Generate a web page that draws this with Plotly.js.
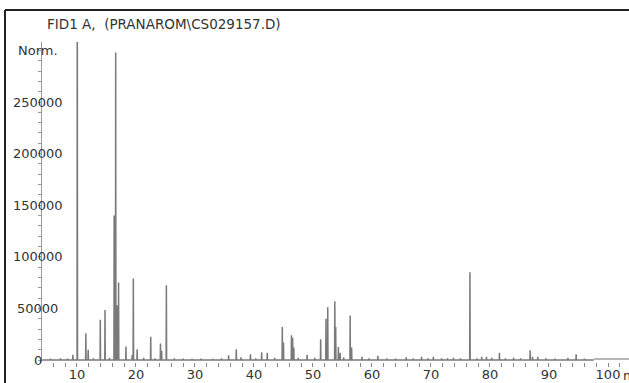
<!DOCTYPE html>
<html>
<head>
<meta charset="utf-8">
<script src="https://cdn.plot.ly/plotly-3.0.1.min.js"></script>
<style>html,body{margin:0;padding:0;background:#fff;}#chart{width:629px;height:383px;}</style>
</head>
<body>
<div id="chart"></div>
<script>
// Chromatogram peaks: retention time (min) and height (Norm.)
const peakTimes = [
  5.5, 7.2, 8.4, 9.3, 10.05, 11.5, 11.9, 12.8, 13.95, 14.75, 15.5, 16.3, 16.56, 16.85, 17.05,
  18.3, 19.35, 19.55, 20.2, 21.3, 22.5, 23.2, 24.15, 24.35, 25.15, 26.5, 28.0, 29.5, 31.0,
  33.0, 34.5, 35.7, 37.0, 37.8, 39.4, 40.3, 41.3, 42.25, 43.5, 44.8, 45.0, 46.35, 46.55,
  46.75, 47.5, 49.0, 50.3, 51.3, 52.2, 52.5, 53.7, 53.85, 54.3, 54.6, 55.2, 56.3, 56.55,
  58.3, 59.5, 61.0, 62.5, 64.0, 65.8, 67.0, 68.4, 69.5, 70.4, 71.8, 72.8, 73.8, 75.0,
  76.6, 77.8, 78.6, 79.4, 80.3, 81.6, 82.6, 84.0, 85.2, 86.8, 87.2, 88.1, 89.5, 91.0,
  93.2, 94.6, 96.0
];
const peakHeights = [
  1200, 1500, 1200, 5000, 420000, 26000, 10000, 1500, 39000, 48500, 2000, 140000, 298000, 53000, 75000,
  13000, 4800, 79000, 10500, 2000, 22500, 1500, 16000, 9000, 72500, 1500, 1200, 1000, 1200,
  1000, 1500, 4500, 10500, 2500, 5500, 1500, 7500, 7000, 2000, 32000, 17000, 24000, 21500,
  12000, 2000, 5000, 2000, 20000, 40000, 51000, 57000, 32000, 12500, 7000, 2500, 43000, 12000,
  3000, 1500, 4000, 1500, 1200, 2500, 1500, 3000, 1500, 3000, 1500, 1500, 2000, 1500,
  85000, 1500, 3000, 3000, 2000, 7000, 1500, 2000, 1500, 9500, 3000, 3000, 1500, 1200,
  2000, 5500, 1200
];
const runStart = 4.07;
const runEnd = 97.6;
const tailX = [97.6, 103.6];
const tailY = [1000, 1000];

const xTickVals = [10, 20, 30, 40, 50, 60, 70, 80, 90, 100];
const xTickText = ['10', '20', '30', '40', '50', '60', '70', '80', '90', '100'];
const yLabelVals = [0, 50000, 100000, 150000, 200000, 250000, 300000];
const yLabelText = ['0', '50000', '100000', '150000', '200000', '250000', 'Norm.'];
const titleText = 'FID1 A,\u00a0\u00a0(PRANAROM\\CS029157.D)';

// build the trace from the peak list
const xs = [runStart], ys = [0];
const hw = 0.04;
for (let i = 0; i < peakTimes.length; i++) {
  xs.push(peakTimes[i] - hw, peakTimes[i], peakTimes[i] + hw);
  ys.push(0, peakHeights[i], 0);
}
xs.push(runEnd); ys.push(0);

const font = {family: 'DejaVu Sans, Arial, sans-serif', size: 13, color: '#333'};
const L = 42, T = 42, B = 21, W = 629, H = 383;
const pw = W - L, ph = H - T - B;

const annotations = yLabelVals.map((v, i) => ({
  xref: 'paper', yref: 'y', x: -4.5 / pw, y: v, xanchor: 'center', yanchor: 'middle',
  text: yLabelText[i], showarrow: false, font: font
}));
annotations.push({
  xref: 'paper', yref: 'paper', x: (621 - L) / pw, y: (H - B - 375) / ph,
  xanchor: 'left', yanchor: 'middle', text: 'min', showarrow: false, font: font
});

const data = [
  {x: xs, y: ys, type: 'scatter', mode: 'lines', line: {color: '#7a7a7a', width: 1.5}, hoverinfo: 'skip'},
  {x: tailX, y: tailY, type: 'scatter', mode: 'lines', line: {color: '#b8b8b8', width: 2}, hoverinfo: 'skip'}
];

const layout = {
  width: W, height: H,
  margin: {l: L, r: 0, t: T, b: B, pad: 0},
  paper_bgcolor: '#fff', plot_bgcolor: '#fff',
  showlegend: false,
  title: {text: titleText, font: {family: 'DejaVu Sans, Arial, sans-serif', size: 13.5, color: '#333'},
          xref: 'container', yref: 'container', x: 47 / W, xanchor: 'left', y: 1 - 24 / H, yanchor: 'middle'},
  xaxis: {
    range: [4.07, 103.56], tickmode: 'array', tickvals: xTickVals, ticktext: xTickText,
    ticks: 'outside', ticklen: 4, tickcolor: '#888', tickwidth: 1, tickfont: font,
    ticklabelstandoff: -4,
    showgrid: false, zeroline: false, showline: false,
    minor: {tickmode: 'linear', tick0: 0, dtick: 2, ticks: 'outside', ticklen: 4, tickcolor: '#888', showgrid: false}
  },
  yaxis: {
    range: [-1938, 308142], showticklabels: false,
    tickmode: 'linear', tick0: 0, dtick: 10000, ticks: 'outside', ticklen: 3, tickcolor: '#999',
    showline: true, linecolor: '#999', linewidth: 1, showgrid: false, zeroline: false
  },
  annotations: annotations,
  shapes: [
    {type: 'line', xref: 'paper', yref: 'paper', x0: (5 - L) / pw, x1: 1.2, y0: (H - B - 10) / ph, y1: (H - B - 10) / ph,
     line: {color: '#222', width: 2}},
    {type: 'line', xref: 'paper', yref: 'paper', x0: (5 - L) / pw, x1: (5 - L) / pw, y0: -0.2, y1: (H - B - 10) / ph,
     line: {color: '#222', width: 2}}
  ]
};

Plotly.newPlot('chart', data, layout, {staticPlot: true, displayModeBar: false});
</script>
</body>
</html>
